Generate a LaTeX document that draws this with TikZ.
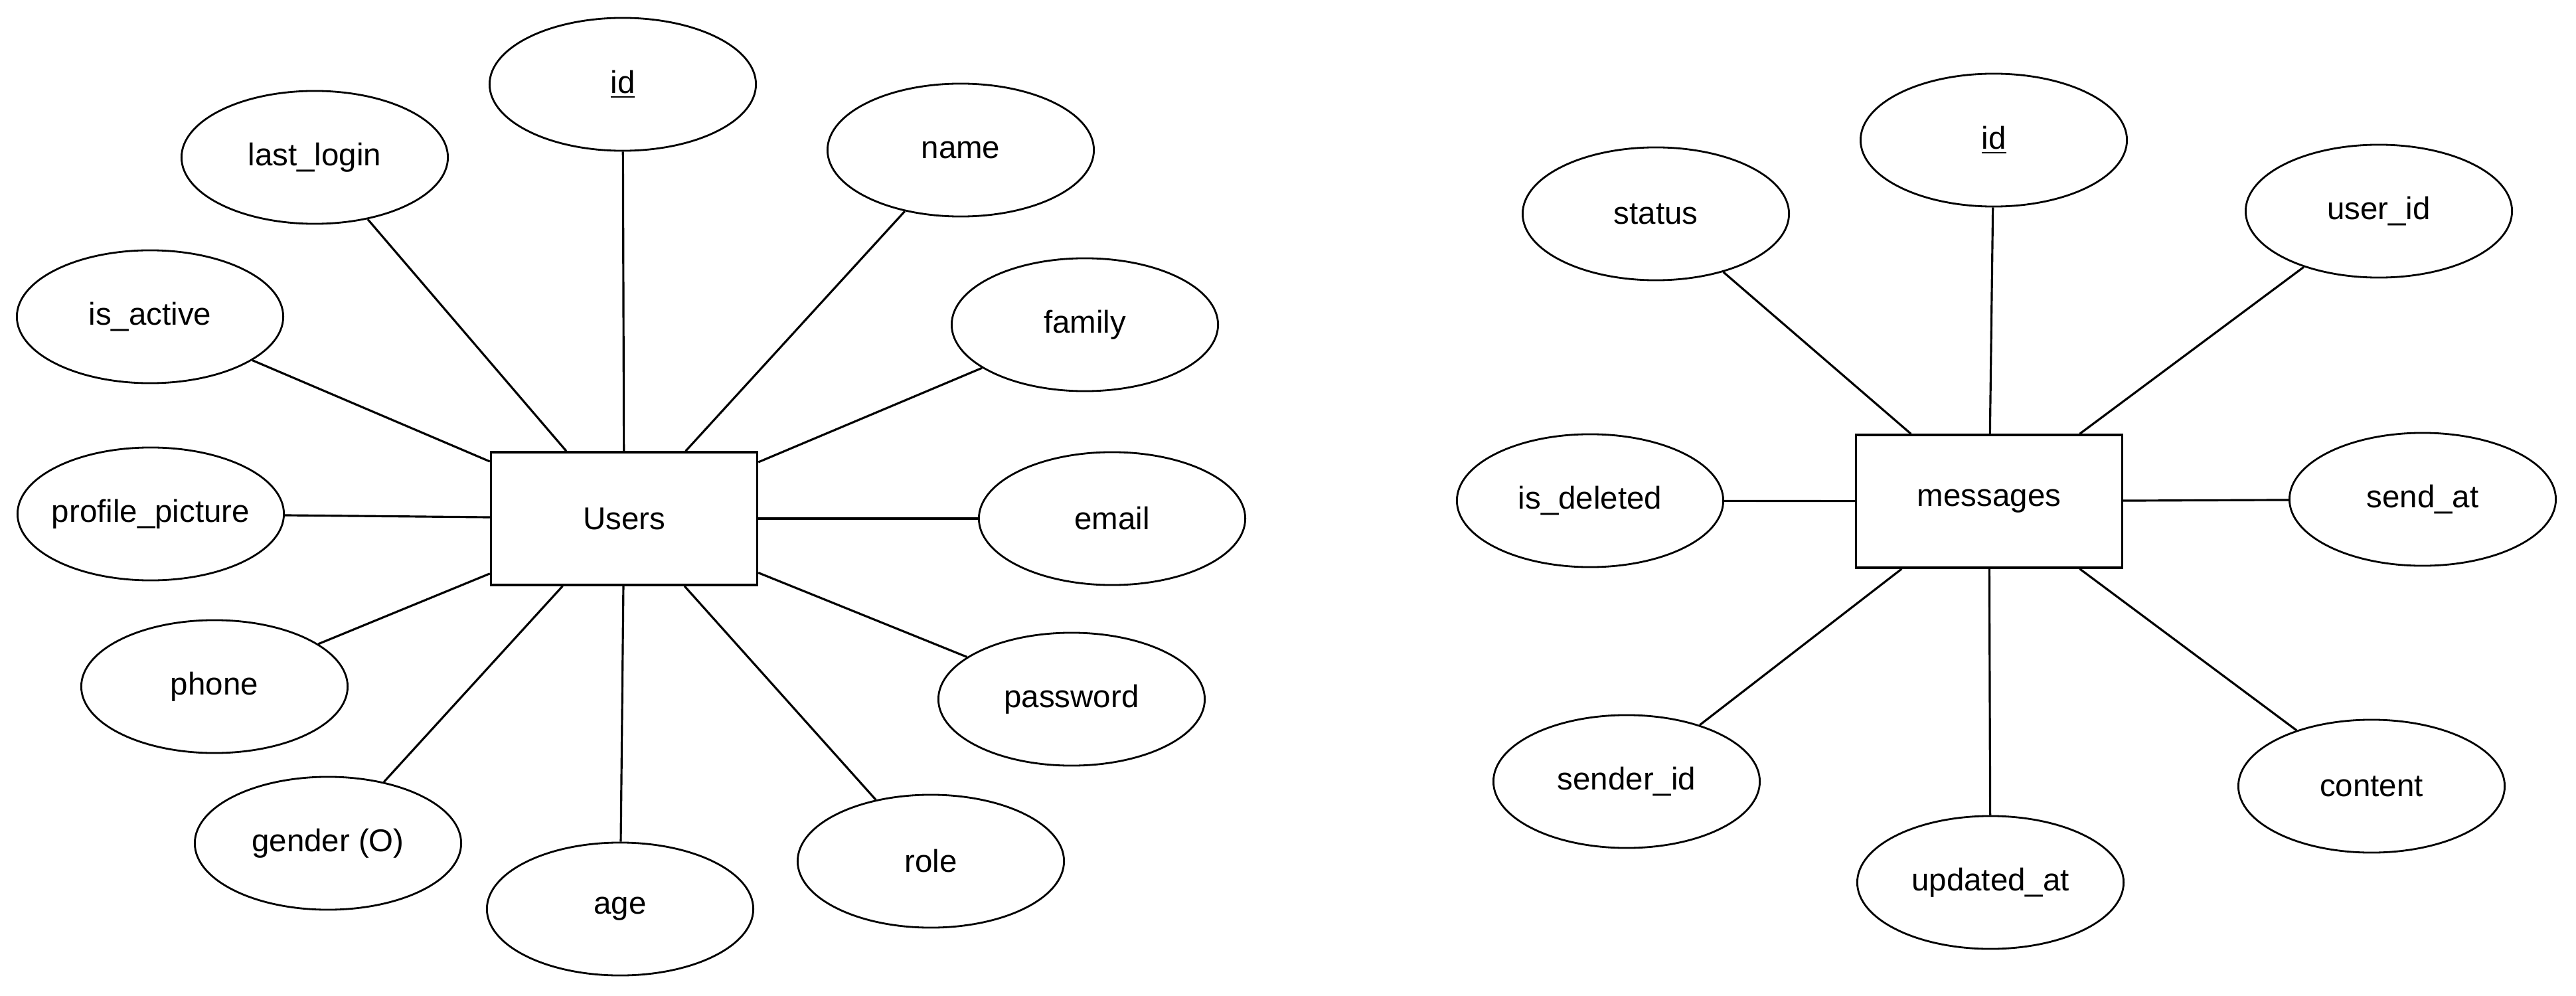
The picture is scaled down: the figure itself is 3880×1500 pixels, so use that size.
\documentclass[tikz,border=0pt]{standalone}
\usepackage{fontspec}
\setmainfont{Liberation Sans}
\usetikzlibrary{shapes.geometric}
\newcommand{\lblbox}[1]{\makebox[0pt]{#1}}
\begin{document}
\begin{tikzpicture}[x=0.01cm,y=-0.01cm,
  attr/.style={draw,ellipse,line width=0.8pt,minimum width=4.01cm,minimum height=2.0cm,inner sep=0pt,font=\fontsize{13.5pt}{16pt}\selectfont},
  entity/.style={draw,rectangle,line width=0.9pt,minimum width=4.01cm,minimum height=2.0cm,inner sep=0pt,font=\fontsize{13.5pt}{16pt}\selectfont},
  conn/.style={line width=0.9pt}]
\useasboundingbox (0,0) rectangle (3880,1500);
% Users entity
\node[entity] (users) at (940,781) {Users};
\node[attr] (uid) at (938,127) {\lblbox{\underline{id}}};
\node[attr] (ulast) at (474,237) {\lblbox{last\_login}};
\node[attr] (uname) at (1447,226) {\lblbox{name}};
\node[attr] (uactive) at (226,477) {\lblbox{is\_active}};
\node[attr] (ufamily) at (1634,489) {\lblbox{family}};
\node[attr] (upic) at (227,774) {\lblbox{profile\_picture}};
\node[attr] (uemail) at (1675,781) {\lblbox{email}};
\node[attr] (uphone) at (323,1034) {\lblbox{phone}};
\node[attr] (upass) at (1614,1053) {\lblbox{password}};
\node[attr] (ugender) at (494,1270) {\lblbox{gender (O)}};
\node[attr] (uage) at (934,1369) {\lblbox{age}};
\node[attr] (urole) at (1402,1297) {\lblbox{role}};
\foreach \a in {uid,ulast,uname,uactive,ufamily,upic,uemail,uphone,upass,ugender,uage,urole}
  \draw[conn] (users) -- (\a);
% messages entity
\node[entity] (msg) at (2996,755) {messages};
\node[attr] (mid) at (3003,211) {\lblbox{\underline{id}}};
\node[attr] (mstatus) at (2494,322) {\lblbox{status}};
\node[attr] (muser) at (3583,318) {\lblbox{user\_id}};
\node[attr] (mdel) at (2395,754) {\lblbox{is\_deleted}};
\node[attr] (msend) at (3649,752) {\lblbox{send\_at}};
\node[attr] (msender) at (2450,1177) {\lblbox{sender\_id}};
\node[attr] (mupd) at (2998,1329) {\lblbox{updated\_at}};
\node[attr] (mcontent) at (3572,1184) {\lblbox{content}};
\foreach \a in {mid,mstatus,muser,mdel,msend,msender,mupd,mcontent}
  \draw[conn] (msg) -- (\a);
\end{tikzpicture}
\end{document}
